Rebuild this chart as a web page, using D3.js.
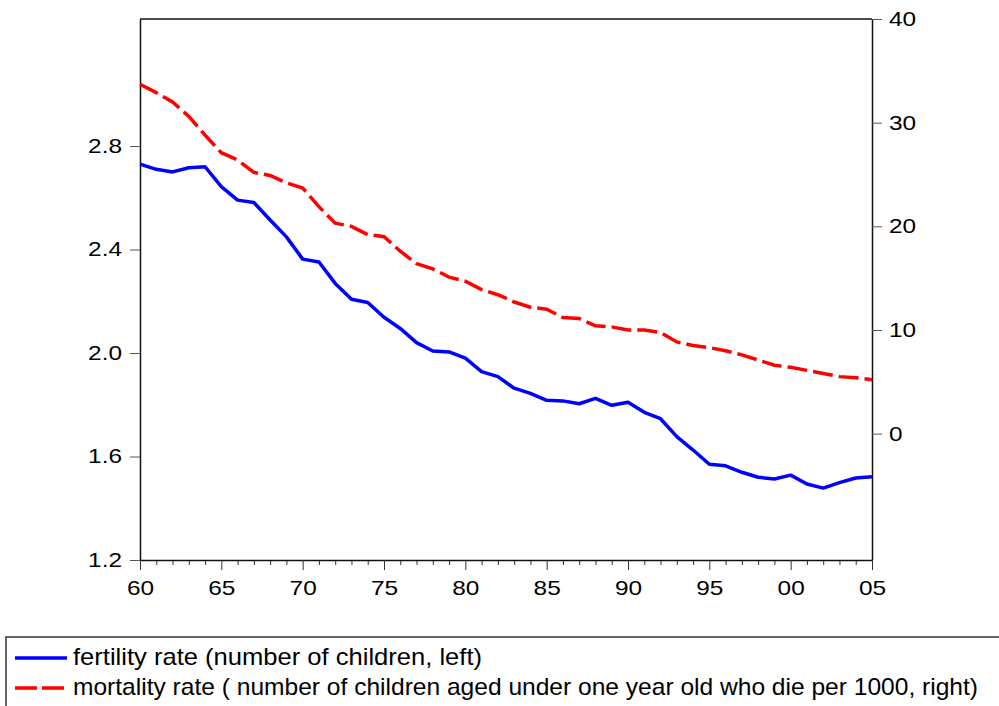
<!DOCTYPE html>
<html>
<head>
<meta charset="utf-8">
<script src="https://cdn.jsdelivr.net/npm/d3@7"></script>
<style>
	body { margin: 0; background: #fff; }
	svg { display: block; font-family: "Liberation Sans", Arial, sans-serif; }
	.axis text { font-family: "Liberation Sans", Arial, sans-serif; font-size: 20px; fill: #000; }
	.legend text { font-family: "Liberation Sans", Arial, sans-serif; font-size: 24px; fill: #000; }
</style>
</head>
<body>
<svg width="999" height="706"></svg>
<script>
// years 1960 - 2005
const years = d3.range(1960, 2006);

// fertility rate, number of children (left axis)
const fertility = [
	2.73, 2.71, 2.70, 2.716, 2.72, 2.643, 2.591, 2.582, 2.514, 2.449,
	2.363, 2.352, 2.269, 2.208, 2.195, 2.138, 2.095, 2.04, 2.008, 2.004,
	1.98, 1.928, 1.909, 1.864, 1.844, 1.817, 1.815, 1.804, 1.825, 1.798,
	1.81, 1.771, 1.746, 1.677, 1.625, 1.57, 1.564, 1.539, 1.52, 1.513,
	1.528, 1.494, 1.478, 1.499, 1.517, 1.522
];

// mortality rate, per 1000 under one year old (right axis)
const mortality = [
	33.7, 32.9, 32.0, 30.6, 28.8, 27.1, 26.4, 25.2, 24.9, 24.2,
	23.7, 21.9, 20.3, 20.0, 19.2, 19.0, 17.6, 16.4, 15.9, 15.1,
	14.7, 13.9, 13.4, 12.7, 12.2, 12.0, 11.2, 11.1, 10.4, 10.3,
	10.0, 10.0, 9.75, 8.85, 8.5, 8.3, 8.0, 7.6, 7.1, 6.6,
	6.4, 6.1, 5.8, 5.5, 5.4, 5.2
];

const leftTicks = [1.2, 1.6, 2.0, 2.4, 2.8],
	rightTicks = [0, 10, 20, 30, 40],
	majorYears = d3.range(1960, 2006, 5);

const legendLabels = [
	'fertility rate (number of children, left)',
	'mortality rate ( number of children aged under one year old who die per 1000, right)'
];

const plotLeft = 140, plotRight = 872, plotTop = 19, plotBottom = 560,
	stretch = 1.22; // tick labels are drawn a bit wide

const svg = d3.select('svg');

const xScale = d3.scaleLinear().domain([1960, 2005]).range([plotLeft, plotRight]),
	yLeft = d3.scaleLinear().domain([1.2, 3.291]).range([plotBottom, plotTop]),
	yRight = d3.scaleLinear().domain([-12.19, 40]).range([plotBottom, plotTop]);

// frame top line
svg.append('line')
	.attr('x1', plotLeft).attr('x2', plotRight)
	.attr('y1', plotTop).attr('y2', plotTop)
	.attr('stroke', '#111').attr('stroke-width', 1.5);

// left axis
let ax = svg.append('g')
	.attr('class', 'axis')
	.attr('transform', `translate(${plotLeft},0)`)
	.call(d3.axisLeft(yLeft).tickValues(leftTicks).tickFormat(d3.format('.1f')).tickSize(10).tickSizeOuter(0));
ax.select('.domain').attr('stroke', '#111').attr('stroke-width', 1.5);
ax.selectAll('.tick line').attr('stroke', '#555');
ax.selectAll('text').attr('x', -18 / stretch).attr('dy', '0.3em').attr('transform', `scale(${stretch},1)`);

// right axis
let ar = svg.append('g')
	.attr('class', 'axis')
	.attr('transform', `translate(${plotRight},0)`)
	.call(d3.axisRight(yRight).tickValues(rightTicks).tickSize(10).tickSizeOuter(0));
ar.select('.domain').attr('stroke', '#111').attr('stroke-width', 1.5);
ar.selectAll('.tick line').attr('stroke', '#555');
ar.selectAll('text').attr('x', 17 / stretch).attr('dy', '0.33em').attr('transform', `scale(${stretch},1)`);

// bottom axis: minor ticks every year, labels every 5
let minor = svg.append('g')
	.attr('transform', `translate(0,${plotBottom})`)
	.call(d3.axisBottom(xScale).tickValues(years.filter(y => y % 5 !== 0)).tickSize(5).tickFormat(''));
minor.select('.domain').remove();
minor.selectAll('.tick line').attr('stroke', '#333');

let ab = svg.append('g')
	.attr('class', 'axis')
	.attr('transform', `translate(0,${plotBottom})`)
	.call(d3.axisBottom(xScale).tickValues(majorYears).tickSize(10).tickSizeOuter(0)
		.tickFormat(y => String(y % 100).padStart(2, '0')));
ab.select('.domain').attr('stroke', '#111').attr('stroke-width', 1.5);
ab.selectAll('.tick line').attr('stroke', '#333');
ab.selectAll('text').attr('y', 21).attr('dy', '0.71em').attr('transform', `scale(${stretch},1)`);

// lines
const lineLeft = d3.line().x((d, i) => xScale(years[i])).y(d => yLeft(d)),
	lineRight = d3.line().x((d, i) => xScale(years[i])).y(d => yRight(d));

svg.append('path')
	.datum(mortality)
	.attr('d', lineRight)
	.attr('fill', 'none')
	.attr('stroke', '#ff0000')
	.attr('stroke-width', 3.5)
	.attr('stroke-dasharray', '20,6');

svg.append('path')
	.datum(fertility)
	.attr('d', lineLeft)
	.attr('fill', 'none')
	.attr('stroke', '#0000ff')
	.attr('stroke-width', 3.5)
	.attr('stroke-linejoin', 'round');

// legend
const legend = svg.append('g').attr('class', 'legend');

legend.append('rect')
	.attr('x', 6).attr('y', 637)
	.attr('width', 1100).attr('height', 120)
	.attr('fill', 'none')
	.attr('stroke', '#333')
	.attr('stroke-width', 1.5);

legend.append('line')
	.attr('x1', 15).attr('x2', 67)
	.attr('y1', 658).attr('y2', 658)
	.attr('stroke', '#0000ff').attr('stroke-width', 3.5);

legend.append('line')
	.attr('x1', 15).attr('x2', 64)
	.attr('y1', 688).attr('y2', 688)
	.attr('stroke', '#ff0000').attr('stroke-width', 3.5)
	.attr('stroke-dasharray', '22,5');

legend.selectAll('.lbl')
	.data(legendLabels)
	.enter()
	.append('text')
	.attr('class', 'lbl')
	.attr('x', 73)
	.attr('y', (d, i) => 665 + i * 30)
	.attr('textLength', (d, i) => i === 0 ? 409 : 905)
	.attr('lengthAdjust', 'spacingAndGlyphs')
	.text(d => d);
</script>
</body>
</html>
